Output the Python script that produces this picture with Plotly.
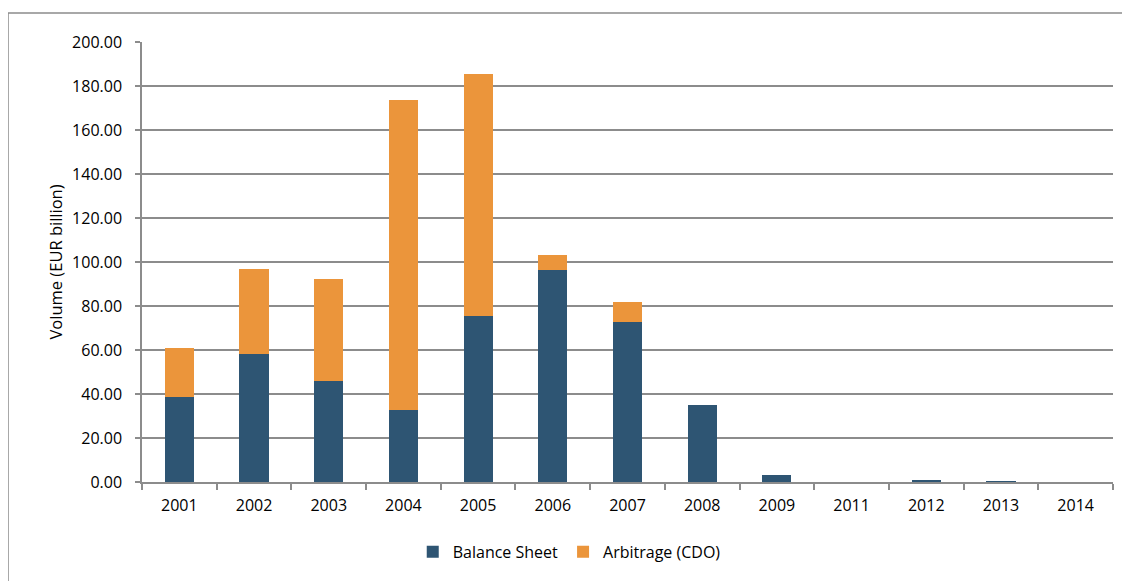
import plotly.graph_objects as go

years = ["2001", "2002", "2003", "2004", "2005", "2006", "2007", "2008", "2009", "2011", "2012", "2013", "2014"]
balance_sheet = [38.6, 58.2, 45.9, 32.7, 75.5, 96.4, 72.7, 35.0, 3.2, 0.0, 0.8, 0.4, 0.0]
arbitrage = [22.3, 38.6, 46.4, 140.9, 110.0, 6.8, 9.1, 0.0, 0.0, 0.0, 0.0, 0.0, 0.0]
y_ticks = [0, 20, 40, 60, 80, 100, 120, 140, 160, 180, 200]

FONT = "Open Sans"
GRID = "#8c8c8c"

fig = go.Figure()
fig.add_trace(go.Bar(name="Balance Sheet", x=years, y=balance_sheet,
                     marker=dict(color="#2E5573", line=dict(width=0)), width=0.39))
fig.add_trace(go.Bar(name="Arbitrage (CDO)", x=years, y=arbitrage,
                     marker=dict(color="#EB953B", line=dict(width=0)), width=0.39))

fig.update_layout(
    barmode="stack",
    width=1122, height=573,
    margin=dict(l=134, r=17, t=34, b=99),
    paper_bgcolor="white", plot_bgcolor="white",
    font=dict(family=FONT, size=16, color="#000000"),
    legend=dict(orientation="h", x=0.44, xanchor="center", y=-0.159, yanchor="middle",
                font=dict(size=16), itemwidth=30, traceorder="normal"),
    xaxis=dict(type="category", tickson="boundaries", ticks="outside", ticklen=6,
               tickcolor=GRID, tickwidth=1.5, showline=True, linecolor=GRID, linewidth=1.5,
               showgrid=False, tickfont=dict(size=16), ticklabelstandoff=8),
    yaxis=dict(range=[0, 200], tickvals=y_ticks, ticktext=[f"{v:.2f}" for v in y_ticks],
               ticks="outside", ticklen=5, tickcolor=GRID, tickwidth=1.5,
               showline=True, linecolor=GRID, linewidth=1.5,
               showgrid=True, gridcolor=GRID, gridwidth=1.5, zeroline=False,
               tickfont=dict(size=16), ticklabelstandoff=10,
               title=dict(text="Volume (EUR billion)", font=dict(size=16.5), standoff=5)),
    shapes=[dict(type="rect", xref="paper", yref="paper",
                 x0=(8 - 142) / 971, x1=(1140 - 142) / 971,
                 y0=-(600 - 482) / 440, y1=(482 - 13) / 440,
                 line=dict(color=GRID, width=1.5), fillcolor="rgba(0,0,0,0)", layer="below")],
)

fig.write_html("out.html")
